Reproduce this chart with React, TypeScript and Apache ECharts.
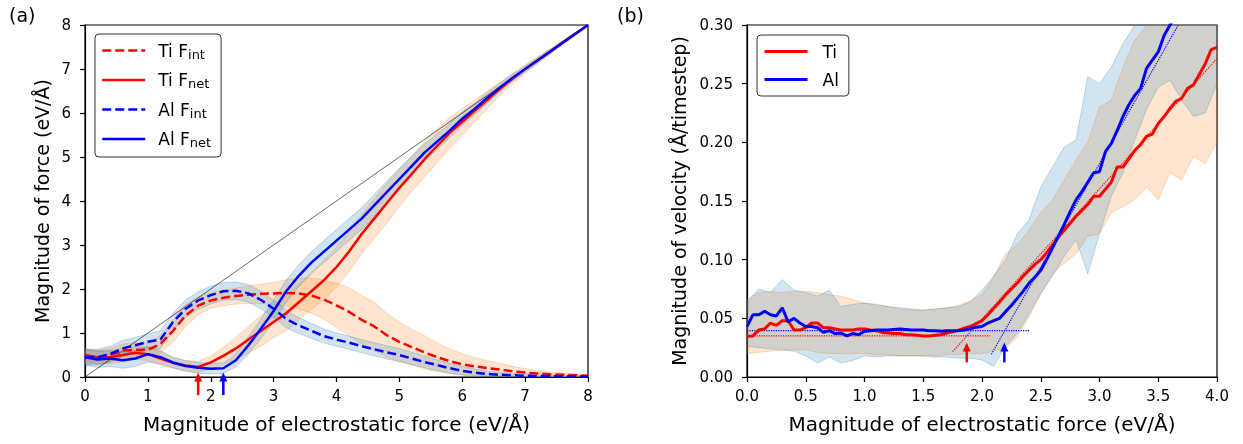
import { useEffect, useRef } from "react";
import * as echarts from "echarts";

const FONT = "DejaVu Sans";
const RED = "#ff0000";
const BLUE = "#0000ff";
const ORANGE_BAND = "rgba(255,127,14,0.2)";
const BLUE_BAND = "rgba(31,119,180,0.2)";
const ORANGE_EDGE = "rgba(255,127,14,0.25)";
const BLUE_EDGE = "rgba(31,119,180,0.25)";

// ---------- Panel (a): force vs electrostatic force ----------
const forceX = Array.from({ length: 41 }, (_, i) => +(i * 0.2).toFixed(2));
const tiIntMean = [0.45,0.45,0.50,0.60,0.62,0.62,0.75,1.05,1.40,1.62,1.74,1.80,1.84,1.87,1.89,1.90,1.91,1.90,1.85,1.76,1.63,1.48,1.30,1.15,0.95,0.80,0.68,0.56,0.45,0.36,0.29,0.24,0.20,0.17,0.13,0.10,0.08,0.06,0.05,0.04,0.03];
const tiIntStd = [0.15,0.15,0.15,0.15,0.15,0.15,0.2,0.25,0.25,0.2,0.18,0.18,0.18,0.2,0.22,0.25,0.3,0.35,0.4,0.45,0.5,0.55,0.55,0.55,0.5,0.45,0.4,0.38,0.33,0.28,0.24,0.2,0.17,0.14,0.11,0.09,0.07,0.05,0.04,0.03,0.02];
const tiNetMean = [0.50,0.45,0.45,0.50,0.55,0.52,0.42,0.32,0.26,0.23,0.33,0.48,0.65,0.85,1.05,1.25,1.45,1.70,1.95,2.20,2.50,2.85,3.25,3.60,3.95,4.30,4.62,4.95,5.25,5.55,5.80,6.05,6.30,6.55,6.78,7.0,7.2,7.4,7.6,7.8,8.0];
const tiNetStd = [0.15,0.15,0.15,0.15,0.15,0.15,0.15,0.12,0.12,0.12,0.15,0.2,0.25,0.3,0.35,0.35,0.4,0.4,0.42,0.45,0.45,0.45,0.45,0.45,0.45,0.42,0.4,0.4,0.38,0.35,0.3,0.25,0.2,0.15,0.12,0.1,0.08,0.06,0.05,0.04,0.02];
const alIntMean = [0.45,0.45,0.52,0.65,0.72,0.80,0.85,1.25,1.55,1.74,1.86,1.95,1.96,1.90,1.75,1.55,1.32,1.17,1.05,0.93,0.85,0.78,0.70,0.63,0.56,0.50,0.42,0.34,0.27,0.20,0.14,0.10,0.07,0.05,0.04,0.03,0.02,0.02,0.01,0.01,0.01];
const alIntStd = [0.18,0.18,0.18,0.18,0.18,0.18,0.2,0.2,0.2,0.2,0.2,0.2,0.2,0.2,0.2,0.2,0.2,0.18,0.17,0.16,0.15,0.15,0.15,0.15,0.15,0.15,0.14,0.13,0.12,0.11,0.1,0.08,0.06,0.05,0.04,0.04,0.03,0.03,0.02,0.02,0.02];
const alNetMean = [0.45,0.40,0.42,0.38,0.42,0.52,0.45,0.33,0.25,0.21,0.19,0.20,0.38,0.72,1.10,1.50,1.95,2.30,2.60,2.85,3.10,3.35,3.60,3.90,4.20,4.50,4.80,5.10,5.35,5.60,5.87,6.10,6.35,6.58,6.80,7.0,7.2,7.4,7.6,7.8,8.0];
const alNetStd = [0.18,0.18,0.18,0.18,0.18,0.18,0.15,0.12,0.12,0.12,0.12,0.12,0.15,0.2,0.22,0.25,0.25,0.25,0.25,0.25,0.25,0.25,0.25,0.25,0.25,0.25,0.22,0.2,0.18,0.16,0.15,0.13,0.12,0.1,0.08,0.07,0.06,0.05,0.04,0.03,0.02];
const diagonalX = [0, 8];
const diagonalY = [0, 8];
const critForceA = [1.8, 2.2]; // Ti, Al
const arrowA = { tail: -0.41, tip: 0.1 };

// ---------- Panel (b): velocity vs electrostatic force ----------
const velX = Array.from({ length: 81 }, (_, i) => +(i * 0.05).toFixed(2));
const tiVel = [0.0347,0.035,0.040,0.041,0.046,0.044,0.048,0.048,0.040,0.040,0.042,0.046,0.046,0.042,0.042,0.041,0.040,0.040,0.040,0.041,0.041,0.040,0.0395,0.038,0.0375,0.037,0.037,0.036,0.036,0.0355,0.035,0.035,0.0355,0.036,0.0375,0.0385,0.040,0.0415,0.043,0.0455,0.048,0.053,0.0585,0.064,0.070,0.075,0.080,0.086,0.091,0.096,0.100,0.106,0.1125,0.119,0.125,0.131,0.137,0.142,0.147,0.154,0.154,0.160,0.166,0.179,0.179,0.186,0.193,0.198,0.205,0.207,0.216,0.222,0.229,0.235,0.2375,0.246,0.249,0.258,0.267,0.279,0.281];
const alVel = [0.043,0.053,0.053,0.056,0.053,0.052,0.059,0.047,0.050,0.046,0.043,0.043,0.042,0.038,0.0395,0.037,0.0375,0.035,0.037,0.036,0.039,0.0395,0.040,0.040,0.040,0.0405,0.041,0.0405,0.040,0.040,0.040,0.0395,0.0395,0.039,0.0395,0.0395,0.0395,0.040,0.041,0.0425,0.043,0.046,0.048,0.050,0.0557,0.061,0.067,0.073,0.080,0.085,0.091,0.100,0.110,0.120,0.130,0.141,0.151,0.158,0.166,0.174,0.175,0.192,0.199,0.210,0.222,0.232,0.240,0.246,0.263,0.270,0.277,0.291,0.300,0.308,0.316,0.322,0.330];
const bandX = Array.from({ length: 41 }, (_, i) => +(i * 0.1).toFixed(2));
const tiVelLow = [0.020,0.021,0.022,0.023,0.023,0.023,0.021,0.020,0.020,0.020,0.020,0.019,0.019,0.018,0.018,0.018,0.018,0.019,0.019,0.020,0.020,0.022,0.024,0.034,0.051,0.071,0.088,0.097,0.105,0.120,0.122,0.140,0.145,0.151,0.162,0.151,0.174,0.168,0.188,0.182,0.200];
const tiVelHigh = [0.066,0.072,0.073,0.072,0.073,0.073,0.072,0.070,0.069,0.066,0.063,0.061,0.060,0.058,0.057,0.057,0.058,0.059,0.061,0.065,0.070,0.085,0.105,0.113,0.125,0.140,0.151,0.168,0.185,0.200,0.230,0.236,0.264,0.287,0.305,0.32,0.33,0.34,0.35,0.36,0.37];
const alVelLow = [0.026,0.025,0.024,0.023,0.022,0.018,0.012,0.017,0.012,0.014,0.018,0.017,0.018,0.018,0.018,0.018,0.017,0.017,0.016,0.016,0.0145,0.009,0.026,0.037,0.054,0.071,0.086,0.103,0.117,0.088,0.122,0.154,0.174,0.202,0.228,0.247,0.253,0.236,0.222,0.225,0.250];
const alVelHigh = [0.064,0.075,0.072,0.083,0.074,0.072,0.069,0.074,0.060,0.062,0.063,0.062,0.060,0.059,0.058,0.057,0.058,0.059,0.060,0.064,0.074,0.086,0.100,0.122,0.134,0.162,0.179,0.196,0.202,0.256,0.250,0.264,0.284,0.31,0.33,0.35,0.36,0.37,0.38,0.39,0.40];
const tiPlateauX = [0, 2.07];
const tiPlateauY = [0.035, 0.035];
const alPlateauX = [0, 2.4];
const alPlateauY = [0.0395, 0.0395];
const tiFitX = [1.75, 4.0];
const tiFitY = [0.0216, 0.2715];
const alFitX = [2.08, 3.67];
const alFitY = [0.0194, 0.3];
const critForceB = [1.87, 2.19];
const arrowB = { tail: 0.0125, tip: 0.0295 };

const pairs = (xs: number[], ys: number[]) => ys.map((y, i) => [xs[i], y]);

function band(xs: number[], lo: number[], hi: number[], fill: string, edge: string, axis: number) {
  return {
    type: "custom", xAxisIndex: axis, yAxisIndex: axis, silent: true, z: 1, clip: true,
    data: [[xs[0], lo[0]]],
    encode: { x: 0, y: 1 },
    renderItem: (params: any, api: any) => {
      const cs = params.coordSys;
      const top = cs.y;
      const bottom = cs.y + cs.height;
      const clampY = (p: number[]) => [p[0], Math.min(bottom, Math.max(top, p[1]))];
      const up = xs.map((x, i) => clampY(api.coord([x, hi[i]])));
      const dn = xs.map((x, i) => clampY(api.coord([x, lo[i]]))).reverse();
      return {
        type: "polygon",
        shape: { points: up.concat(dn) },
        style: { fill, stroke: edge, lineWidth: 1 },
      };
    },
  };
}

function line(name: string, xs: number[], ys: number[], color: string, width: number, dash: any, axis: number, z = 3) {
  return {
    type: "line", name, xAxisIndex: axis, yAxisIndex: axis, data: pairs(xs, ys),
    showSymbol: false, symbol: "none", silent: true, z,
    lineStyle: { color, width, type: dash },
    itemStyle: { color },
  };
}

function arrows(xs: number[], colors: string[], a: { tail: number; tip: number }, axis: number) {
  return {
    type: "custom", xAxisIndex: axis, yAxisIndex: axis, clip: false, silent: true, z: 5,
    data: xs.map((x) => [x, a.tip, a.tail]),
    encode: { x: 0, y: [1, 2] },
    renderItem: (params: any, api: any) => {
      const tip = api.coord([api.value(0), api.value(1)]);
      const tail = api.coord([api.value(0), api.value(2)]);
      const c = colors[params.dataIndex];
      const hl = 9, hw = 4;
      return {
        type: "group",
        children: [
          { type: "line", shape: { x1: tail[0], y1: tail[1], x2: tip[0], y2: tip[1] + hl - 1 }, style: { stroke: c, lineWidth: 2.5 } },
          { type: "polygon", shape: { points: [[tip[0], tip[1]], [tip[0] - hw, tip[1] + hl], [tip[0] + hw, tip[1] + hl]] }, style: { fill: c } },
        ],
      };
    },
  };
}

const axisCommon = {
  axisLine: { show: true, lineStyle: { color: "#000", width: 1.2 } },
  axisTick: { show: true, length: 5, lineStyle: { color: "#000", width: 1.2 } },
  splitLine: { show: false },
  nameLocation: "middle",
};
const xNameStyle = { fontFamily: FONT, fontSize: 20, color: "#000" };
const yNameStyle = { fontFamily: FONT, fontSize: 19, color: "#000" };

const legendFmt = (name: string) => {
  const m = name.match(/^(.*) F_(.*)$/);
  return m ? `${m[1]} F{s|${m[2]}}` : name;
};

export default function App() {
  const ref = useRef<HTMLDivElement>(null);
  useEffect(() => {
    if (!ref.current) return;
    const chart = echarts.init(ref.current, undefined, { renderer: "svg" });
    const option: any = {
      animation: false,
      textStyle: { fontFamily: FONT },
      grid: [
        { left: 85, top: 25, width: 503, height: 352, show: true, borderColor: "#000", borderWidth: 1.2, backgroundColor: "transparent" },
        { left: 747, top: 25, width: 470, height: 352, show: true, borderColor: "#000", borderWidth: 1.2, backgroundColor: "transparent" },
      ],
      xAxis: [
        { ...axisCommon, type: "value", gridIndex: 0, min: 0, max: 8, interval: 1, name: "Magnitude of electrostatic force (eV/Å)", nameGap: 37, nameTextStyle: xNameStyle,
          axisLabel: { fontFamily: FONT, fontSize: 15, color: "#000", margin: 11 } },
        { ...axisCommon, type: "value", gridIndex: 1, min: 0, max: 4, interval: 0.5, name: "Magnitude of electrostatic force (eV/Å)", nameGap: 37, nameTextStyle: xNameStyle,
          axisLabel: { fontFamily: FONT, fontSize: 15, color: "#000", margin: 11, formatter: (v: number) => v.toFixed(1) } },
      ],
      yAxis: [
        { ...axisCommon, type: "value", gridIndex: 0, min: 0, max: 8, interval: 1, name: "Magnitude of force (eV/Å)", nameGap: 34, nameTextStyle: yNameStyle,
          axisLabel: { fontFamily: FONT, fontSize: 15, color: "#000", margin: 14 } },
        { ...axisCommon, type: "value", gridIndex: 1, min: 0, max: 0.3, interval: 0.05, name: "Magnitude of velocity (Å/timestep)", nameGap: 59, nameTextStyle: yNameStyle,
          axisLabel: { fontFamily: FONT, fontSize: 15, color: "#000", margin: 14, formatter: (v: number) => v.toFixed(2) } },
      ],
      legend: [
        {
          orient: "vertical", left: 95, top: 34, padding: [8, 10, 8, 6], itemGap: 11, itemWidth: 43, itemHeight: 14,
          borderColor: "#333", borderWidth: 1, borderRadius: 4, backgroundColor: "rgba(255,255,255,0.8)",
          selectedMode: false, data: ["Ti F_int", "Ti F_net", "Al F_int", "Al F_net"], formatter: legendFmt,
          lineStyle: { width: 2.5 }, itemStyle: { opacity: 0 },
          textStyle: { fontFamily: FONT, fontSize: 17, color: "#000", padding: [0, 0, 0, 8],
            rich: { s: { fontFamily: FONT, fontSize: 13, color: "#000", verticalAlign: "bottom", padding: [7, 0, 0, 0] } } },
        },
        {
          orient: "vertical", left: 757, top: 35, padding: [8, 10, 8, 6], itemGap: 11, itemWidth: 43, itemHeight: 14,
          borderColor: "#333", borderWidth: 1, borderRadius: 4, backgroundColor: "rgba(255,255,255,0.8)",
          selectedMode: false, data: ["Ti", "Al"], lineStyle: { width: 3 }, itemStyle: { opacity: 0 },
          textStyle: { fontFamily: FONT, fontSize: 17, color: "#000", padding: [0, 0, 0, 10] },
        },
      ],
      graphic: [
        { type: "text", left: 9, top: 5, style: { text: "(a)", font: `19px '${FONT}'`, fill: "#000" } },
        { type: "text", left: 617, top: 5, style: { text: "(b)", font: `19px '${FONT}'`, fill: "#000" } },
      ],
      series: [
        band(forceX, tiIntMean.map((m, i) => Math.max(0, m - tiIntStd[i])), tiIntMean.map((m, i) => m + tiIntStd[i]), ORANGE_BAND, ORANGE_EDGE, 0),
        band(forceX, tiNetMean.map((m, i) => Math.max(0, m - tiNetStd[i])), tiNetMean.map((m, i) => m + tiNetStd[i]), ORANGE_BAND, ORANGE_EDGE, 0),
        band(forceX, alIntMean.map((m, i) => Math.max(0, m - alIntStd[i])), alIntMean.map((m, i) => m + alIntStd[i]), BLUE_BAND, BLUE_EDGE, 0),
        band(forceX, alNetMean.map((m, i) => Math.max(0, m - alNetStd[i])), alNetMean.map((m, i) => m + alNetStd[i]), BLUE_BAND, BLUE_EDGE, 0),
        line("diag", diagonalX, diagonalY, "#000", 0.6, "solid", 0, 2),
        line("Ti F_int", forceX, tiIntMean, RED, 2.5, [9, 4], 0),
        line("Ti F_net", forceX, tiNetMean, RED, 2.5, "solid", 0),
        line("Al F_int", forceX, alIntMean, BLUE, 2.5, [9, 4], 0),
        line("Al F_net", forceX, alNetMean, BLUE, 2.5, "solid", 0),
        arrows(critForceA, [RED, BLUE], arrowA, 0),

        band(bandX, tiVelLow, tiVelHigh, ORANGE_BAND, ORANGE_EDGE, 1),
        band(bandX, alVelLow, alVelHigh, BLUE_BAND, BLUE_EDGE, 1),
        line("tiPlateau", tiPlateauX, tiPlateauY, RED, 1.2, "dotted", 1, 2),
        line("alPlateau", alPlateauX, alPlateauY, BLUE, 1.2, "dotted", 1, 2),
        line("tiFit", tiFitX, tiFitY, RED, 1.2, "dotted", 1, 2),
        line("alFit", alFitX, alFitY, BLUE, 1.2, "dotted", 1, 2),
        line("Ti", velX, tiVel, RED, 3, "solid", 1),
        line("Al", velX.slice(0, alVel.length), alVel, BLUE, 3, "solid", 1),
        arrows(critForceB, [RED, BLUE], arrowB, 1),
      ],
    };
    chart.setOption(option);
    return () => chart.dispose();
  }, []);
  return <div ref={ref} style={{ position: "fixed", left: 0, top: 0, width: 1243, height: 444 }} />;
}
